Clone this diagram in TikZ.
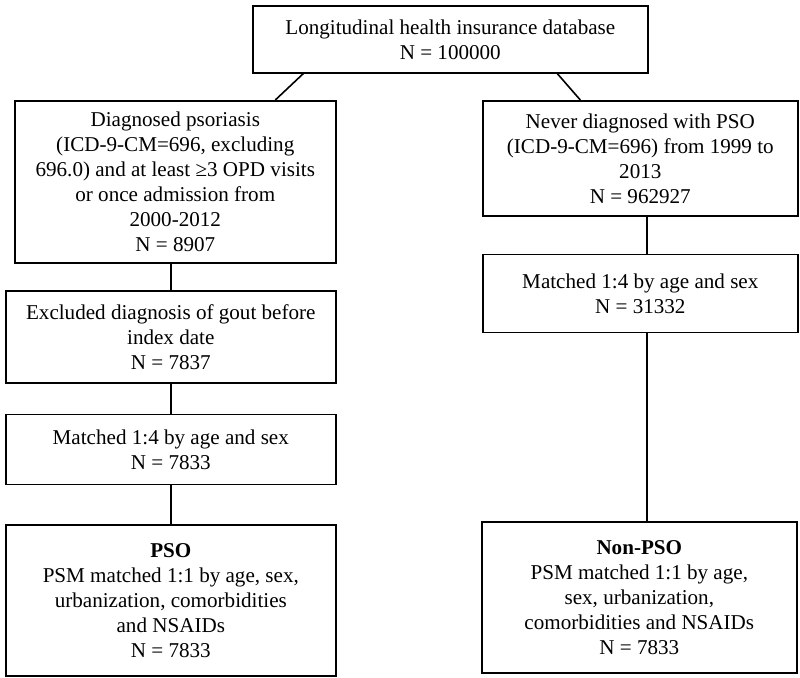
\documentclass[tikz,border=0pt]{standalone}
\usepackage{fontspec}
\setmainfont{Liberation Serif}
\usetikzlibrary{positioning}

\begin{document}
\begin{tikzpicture}[
  x=1pt, y=1pt,
  node distance=30pt and 40pt,
  every node/.style={font=\fontsize{21.1}{25}\selectfont},
  box/.style={rectangle, draw, line width=1.6pt, align=center, inner sep=2pt, minimum width=330pt},
  link/.style={line width=1.6pt},
]
  \useasboundingbox (0,0) rectangle (800,-677);

  \node[box, anchor=north west, minimum width=395pt, minimum height=67pt] (db) at (252,-5) {Longitudinal health insurance database\\N = 100000};

  % left branch
  \node[box, anchor=north west, minimum width=321pt, minimum height=162pt] (diag) at (14,-100) {Diagnosed psoriasis\\(ICD-9-CM=696, excluding\\696.0) and at least ≥3 OPD visits\\or once admission from\\2000-2012\\N = 8907};
  \node[box, anchor=north west, minimum height=92pt] (excl) at (5,-290) {Excluded diagnosis of gout before\\index date\\N = 7837};
  \node[box, minimum height=70pt, below=30pt of excl] (matchL) {Matched 1:4 by age and sex\\N = 7833};
  \node[box, minimum height=151pt, below=39pt of matchL] (pso) {\textbf{PSO}\\PSM matched 1:1 by age, sex,\\urbanization, comorbidities\\and NSAIDs\\N = 7833};

  % right branch
  \node[box, anchor=north west, minimum width=315pt, minimum height=115pt] (never) at (482,-100) {Never diagnosed with PSO\\(ICD-9-CM=696) from 1999 to\\2013\\N = 962927};
  \node[box, minimum width=315pt, minimum height=78pt, below=37pt of never] (matchR) {Matched 1:4 by age and sex\\N = 31332};
  \node[box, anchor=north west, minimum width=315pt, minimum height=151pt] (nonpso) at (481,-521) {\textbf{Non-PSO}\\PSM matched 1:1 by age,\\sex, urbanization,\\comorbidities and NSAIDs\\N = 7833};

  \draw[link] ([xshift=-147pt]db.south) -- ([xshift=100pt]diag.north);
  \draw[link] ([xshift=107pt]db.south) -- ([xshift=-60pt]never.north);
  \draw[link] (excl.north |- diag.south) -- (excl.north);
  \draw[link] (excl) -- (matchL);
  \draw[link] (matchL) -- (pso);
  \draw[link] ([xshift=6.5pt]never.south) -- ([xshift=6.5pt]matchR.north);
  \draw[link] ([xshift=6.5pt]matchR.south) -- ([xshift=6.5pt]matchR.south |- nonpso.north);
\end{tikzpicture}
\end{document}
